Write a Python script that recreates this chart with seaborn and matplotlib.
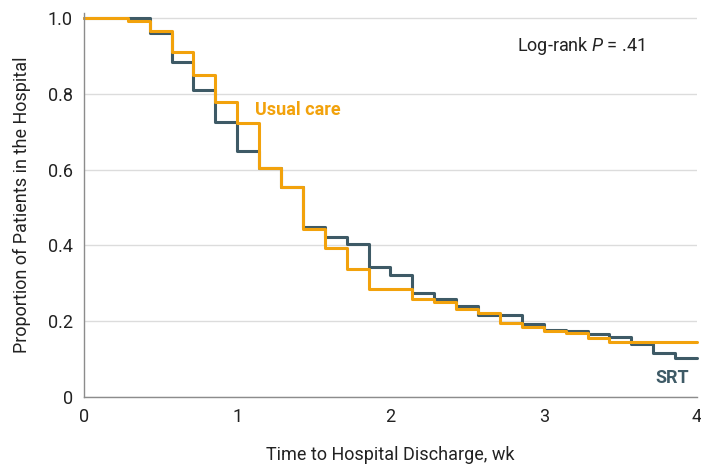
import numpy as np
import pandas as pd
import matplotlib
matplotlib.use("Agg")
import matplotlib.pyplot as plt
import seaborn as sns

# ---- data ----
days = list(range(29))  # day index; time in weeks = day / 7
srt = [1.0, 1.0, 1.0, 0.96, 0.885, 0.81, 0.726, 0.65, 0.605, 0.553, 0.449,
       0.421, 0.404, 0.344, 0.322, 0.274, 0.258, 0.241, 0.217, 0.217, 0.193,
       0.178, 0.174, 0.166, 0.158, 0.139, 0.117, 0.102, 0.102]
usual = [1.0, 1.0, 0.993, 0.965, 0.911, 0.85, 0.777, 0.723, 0.604, 0.553, 0.444,
         0.394, 0.337, 0.284, 0.284, 0.259, 0.25, 0.233, 0.222, 0.195, 0.186,
         0.175, 0.168, 0.155, 0.144, 0.144, 0.144, 0.144, 0.144]
groups = ["SRT", "Usual care"]
x_ticks = [0, 1, 2, 3, 4]
y_ticks = [0, 0.2, 0.4, 0.6, 0.8, 1.0]
y_tick_labels = ["0", "0.2", "0.4", "0.6", "0.8", "1.0"]

weeks = np.array(days) / 7.0
df = pd.concat([
    pd.DataFrame({"time": weeks, "surv": srt, "group": "SRT"}),
    pd.DataFrame({"time": weeks, "surv": usual, "group": "Usual care"}),
])

sns.set_theme(style="white")
FAM = ["Roboto", "DejaVu Sans"]
plt.rcParams["font.family"] = FAM
plt.rcParams["mathtext.fontset"] = "custom"
plt.rcParams["mathtext.it"] = "Roboto:italic"
plt.rcParams["mathtext.rm"] = "Roboto"

DARK = "#3E5A66"
ORANGE = "#F2A20C"
palette = {"SRT": DARK, "Usual care": ORANGE}

fig = plt.figure(figsize=(7.01, 4.70), dpi=100)
ax = fig.add_axes([0.1198, 0.1553, 0.8745, 0.817])

sns.lineplot(data=df, x="time", y="surv", hue="group", hue_order=groups,
             palette=palette, estimator=None, drawstyle="steps-post",
             linewidth=2.2, legend=False, ax=ax)
for ln in ax.lines:
    ln.set_clip_on(False)

ax.set_xlim(0, 4)
ax.set_ylim(0, 1.013)
ax.set_xticks(x_ticks)
ax.set_yticks(y_ticks)
ax.set_yticklabels(y_tick_labels)

ax.yaxis.grid(True, color="#DCDCDC", linewidth=1.0)
ax.xaxis.grid(False)
ax.set_axisbelow(True)
for s in ["top", "right"]:
    ax.spines[s].set_visible(False)
for s in ["left", "bottom"]:
    ax.spines[s].set_color("#8C8C8C")
    ax.spines[s].set_linewidth(1.0)
ax.tick_params(axis="both", direction="out", length=5, width=1.0,
               color="#8C8C8C", labelsize=13, labelcolor="#222222", pad=3)

ax.set_xlabel("Time to Hospital Discharge, wk", fontsize=13, color="#222222", labelpad=14)
ax.set_ylabel("Proportion of Patients in the Hospital", fontsize=13, color="#222222", labelpad=12)

ax.text(3.66, 0.925, r"Log-rank $P$ = .41", fontsize=13, color="#222222",
        ha="right", va="center")
ax.text(1.115, 0.756, "Usual care", fontsize=13, color=ORANGE,
        fontweight="semibold", ha="left", va="center")
ax.text(3.95, 0.05, "SRT", fontsize=13, color=DARK,
        fontweight="semibold", ha="right", va="center")

fig.savefig("out.png", dpi=100)
